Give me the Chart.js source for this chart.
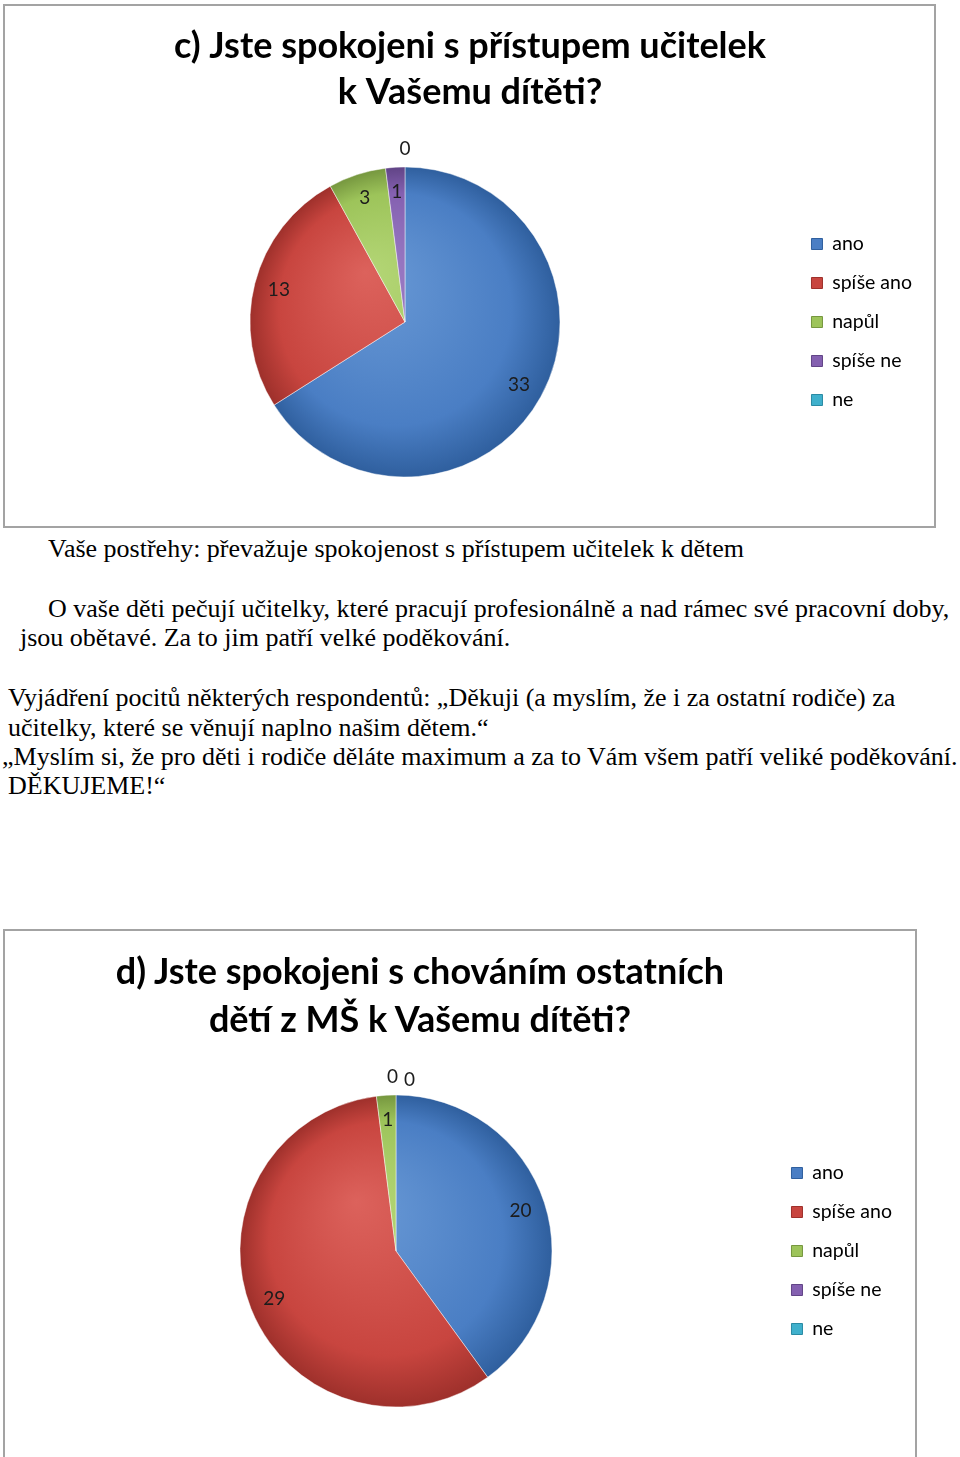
<!DOCTYPE html>
<html>
<head>
<meta charset="utf-8">
<script src="https://cdn.jsdelivr.net/npm/chart.js@4.4.1/dist/chart.umd.min.js"></script>
<style>
  body { margin: 0; background: #fff; width: 960px; height: 1457px; position: relative; overflow: hidden; }
  .box { position: absolute; border: 2px solid #a3a3a3; box-sizing: border-box; }
  .box canvas { position: absolute; left: 0; top: 0; }
  .txt { position: absolute; white-space: nowrap; font-family: "Liberation Serif", "Times New Roman", serif; font-size: 26px; line-height: 30px; color: #000; }
  .ttl { position: absolute; white-space: nowrap; font-family: Lato, "Open Sans", sans-serif; font-weight: bold; font-size: 36px; line-height: 48px; color: #000; text-align: center; }
</style>
</head>
<body>

<div class="box" style="left:3px; top:4px; width:933px; height:524px;">
  <canvas id="graf-c" width="929" height="520"></canvas>
</div>

<div class="txt" style="left:48px; top:534px;">Vaše postřehy: převažuje spokojenost s přístupem učitelek k dětem</div>
<div class="txt" style="left:48px; top:594px;">O vaše děti pečují učitelky, které pracují profesionálně a nad rámec své pracovní doby,</div>
<div class="txt" style="left:20px; top:623px;">jsou obětavé. Za to jim patří velké poděkování.</div>
<div class="txt" style="left:8px; top:683px;">Vyjádření pocitů některých respondentů:  „Děkuji (a myslím, že i za ostatní rodiče) za</div>
<div class="txt" style="left:8px; top:713px;">učitelky, které se věnují naplno našim dětem.“</div>
<div class="txt" style="left:2px; top:742px;">„Myslím si, že pro děti i rodiče děláte  maximum a za to Vám všem patří veliké poděkování.</div>
<div class="txt" style="left:8px; top:771px;">DĚKUJEME!“</div>

<div class="box" style="left:3px; top:929px; width:914px; height:530px;">
  <canvas id="graf-d" width="910" height="526"></canvas>
</div>
<div class="ttl" style="left:70px; top:946px; width:700px;">d) Jste spokojeni s chováním ostatních<br>dětí z MŠ k Vašemu dítěti?</div>

<script>
const kategorie = ["ano", "spíše ano", "napůl", "spíše ne", "ne"];
const hodnoty_c = [33, 13, 3, 1, 0];
const hodnoty_d = [20, 29, 1, 0, 0];
const titulek_c = ["c) Jste spokojeni s přístupem učitelek", "k Vašemu dítěti?"];

const barvy = ["#4a7ec4", "#c8453f", "#9dc45a", "#8460b0", "#3fb0cc"];
const svetle = ["#6a9ad6", "#dc625c", "#b4d676", "#9c7ec6", "#64c6de"];
const tmave = ["#2f5f9e", "#9e302b", "#76973f", "#614486", "#2a8aa3"];

function vypln(polomer) {
    return function (context) {
        const i = context.dataIndex;
        const a = context.chart.chartArea;
        if (!a) return barvy[i];
        const cx = (a.left + a.right) / 2;
        const cy = (a.top + a.bottom) / 2;
        const g = context.chart.ctx.createRadialGradient(cx - 40, cy - 50, 0, cx, cy, polomer);
        g.addColorStop(0, svetle[i]);
        g.addColorStop(0.75, barvy[i]);
        g.addColorStop(1, tmave[i]);
        return g;
    };
}

// popisky hodnot v kolacich
const popisky = {
    id: "popisky",
    afterDatasetsDraw(chart) {
        const ctx = chart.ctx;
        const meta = chart.getDatasetMeta(0);
        const data = chart.data.datasets[0].data;
        const nuly = data.filter(v => v === 0).length;
        let k = 0;
        ctx.save();
        ctx.font = "19px Lato, 'Open Sans', sans-serif";
        ctx.fillStyle = "#1c1c1c";
        ctx.textAlign = "center";
        ctx.textBaseline = "middle";
        meta.data.forEach((arc, i) => {
            const p = arc.getProps(["x", "y", "startAngle", "endAngle", "outerRadius"], true);
            const uhel = (p.startAngle + p.endAngle) / 2;
            let x, y;
            if (data[i] > 0) {
                x = p.x + Math.cos(uhel) * p.outerRadius * 0.84;
                y = p.y + Math.sin(uhel) * p.outerRadius * 0.84;
            } else {
                x = p.x + Math.cos(uhel) * (p.outerRadius + 18) + (k - (nuly - 1) / 2) * 17 + (nuly > 1 ? 5 : 0);
                y = p.y + Math.sin(uhel) * (p.outerRadius + 18) + (nuly > 1 ? k * 3 : 0);
                k++;
            }
            ctx.fillText(String(data[i]), x, y);
        });
        ctx.restore();
    }
};

function legenda(chart) {
    const items = Chart.overrides.pie.plugins.legend.labels.generateLabels(chart);
    items.forEach((it, i) => {
        it.fillStyle = barvy[i];
        it.strokeStyle = tmave[i];
        it.lineWidth = 1;
    });
    return items;
}

function kolac(id, hodnoty, polomer, titulek, padding) {
    new Chart(document.getElementById(id), {
        type: "pie",
        data: {
            labels: kategorie,
            datasets: [{
                data: hodnoty,
                backgroundColor: vypln(polomer),
                borderColor: "rgba(255,255,255,0.45)",
                borderWidth: 1,
            }],
        },
        options: {
            responsive: false,
            animation: false,
            radius: polomer,
            layout: { padding: padding },
            plugins: {
                tooltip: { enabled: false },
                title: {
                    display: !!titulek,
                    text: titulek,
                    color: "#000",
                    font: { family: "Lato, 'Open Sans', sans-serif", size: 36, weight: "bold", lineHeight: 46 / 36 },
                    padding: { top: 17, bottom: 14 },
                },
                legend: {
                    position: "right",
                    fullSize: false,
                    labels: {
                        boxWidth: 11,
                        boxHeight: 11,
                        padding: 19.5,
                        color: "#000",
                        font: { family: "Lato, 'Open Sans', sans-serif", size: 19.5 },
                        generateLabels: legenda,
                    },
                },
            },
        },
        plugins: [popisky],
    });
}

kolac("graf-c", hodnoty_c, 155, titulek_c, { left: 13, right: 12, top: 0, bottom: 11 });
kolac("graf-d", hodnoty_d, 156, null, { left: 15, right: 13, top: 114, bottom: 0 });
</script>
</body>
</html>
